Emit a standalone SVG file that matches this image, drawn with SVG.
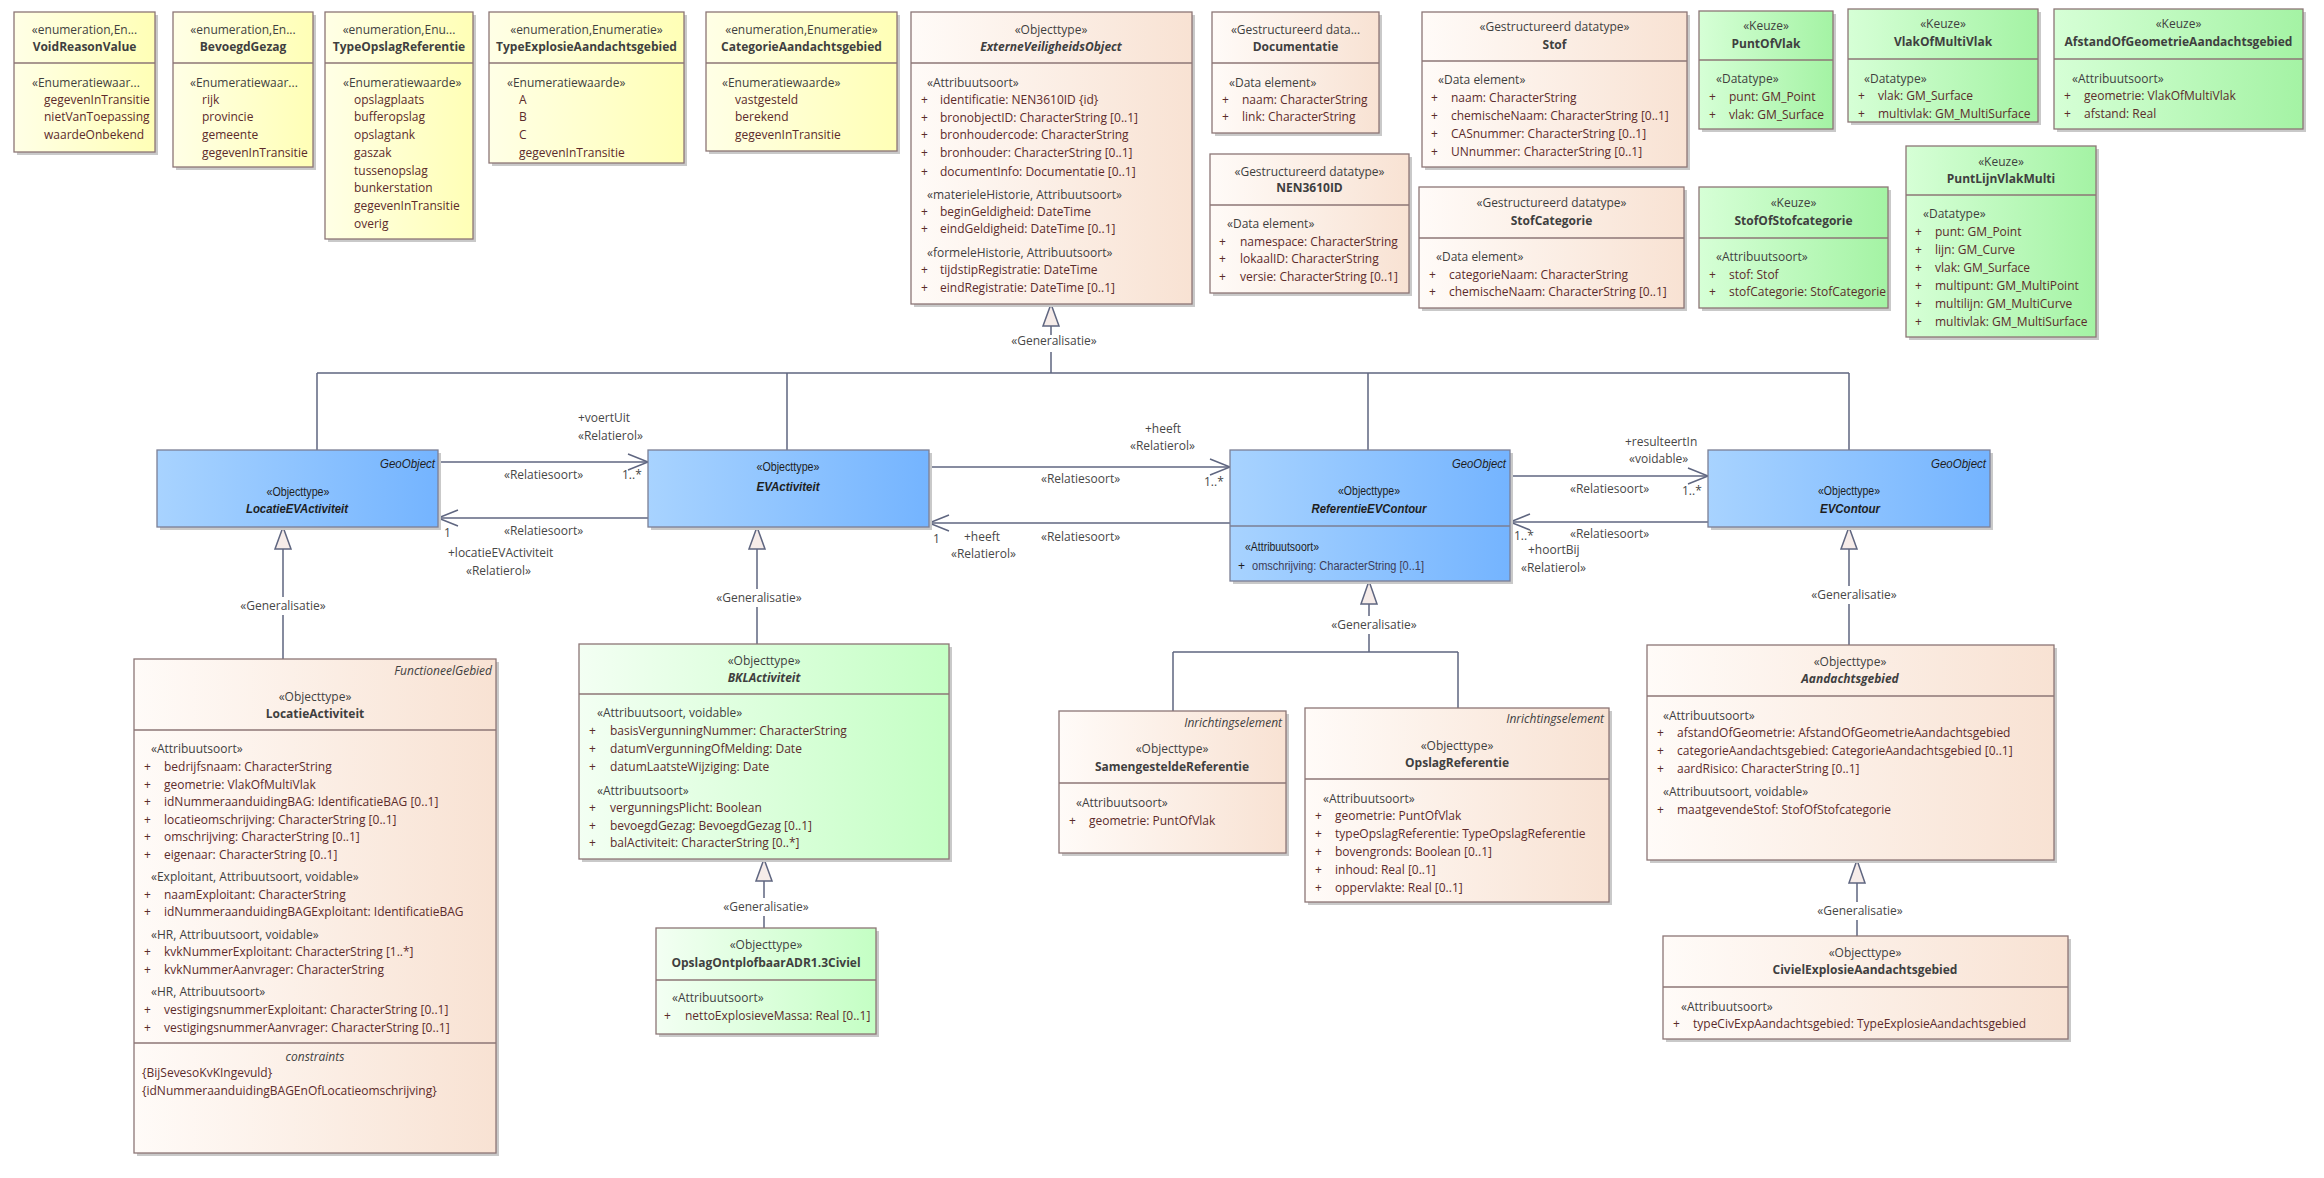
<svg xmlns="http://www.w3.org/2000/svg" width="2324" height="1178" viewBox="0 0 2324 1178">
<defs>
<linearGradient id="gy" x1="0" y1="0" x2="1" y2="0"><stop offset="0" stop-color="#FFFFE6"/><stop offset="1" stop-color="#FFFFB6"/></linearGradient>
<linearGradient id="gp" x1="0" y1="0" x2="1" y2="0"><stop offset="0" stop-color="#FFFBF8"/><stop offset="1" stop-color="#F8E2D3"/></linearGradient>
<linearGradient id="gg" x1="0" y1="0" x2="1" y2="0"><stop offset="0" stop-color="#D6FFD6"/><stop offset="1" stop-color="#A4F3A4"/></linearGradient>
<linearGradient id="gl" x1="0" y1="0" x2="1" y2="0"><stop offset="0" stop-color="#F3FFF3"/><stop offset="1" stop-color="#C4FFC4"/></linearGradient>
<linearGradient id="gb" x1="0" y1="0" x2="1" y2="0"><stop offset="0" stop-color="#A8D3FF"/><stop offset="1" stop-color="#74B4FF"/></linearGradient>
<marker id="open" markerWidth="24" markerHeight="20" refX="21" refY="9" orient="auto" markerUnits="userSpaceOnUse"><path d="M1,1 L21,9 L1,17" fill="none" stroke="#5f6680" stroke-width="1.5"/></marker>
</defs>
<style>
text{font-family:"Open Sans","Liberation Sans",sans-serif;font-size:12px}
.bx{stroke:#8c7676;stroke-width:1.3}
.bbx{stroke:#7b7f95;stroke-width:1.3}
.sh{fill:#c9c9c9}
.dv{stroke:#8c7676;stroke-width:1.3}
.st{fill:#3f3f3f}
.nm{fill:#3f3f3f;font-weight:bold}
.bi{font-style:italic}
.at{fill:#5c2b2b}
.c{text-anchor:middle}
.e{text-anchor:end}
.blu{font-family:"Liberation Sans",Arial,sans-serif;font-size:12px;fill:#1e1e1e}
.con{stroke:#5f6680;stroke-width:1.5;fill:none}
.tri{fill:#f6ece9;stroke:#5f6680;stroke-width:1.5}
.lb{fill:#474747}
</style>
<rect width="2324" height="1178" fill="#ffffff"/>

<g id="connectors">
<path class="con" d="M1051,326 V335 M1051,352 V373 M317,373 H1849 M317,373 V450 M787,373 V450 M1368,373 V450 M1849,373 V450"/>
<polygon class="tri" points="1051,304 1043,326 1059,326"/>
<text class="lb c" x="1054" y="345">«Generalisatie»</text>

<path class="con" d="M438,462 H648" marker-end="url(#open)"/>
<path class="con" d="M648,518 H438" marker-end="url(#open)"/>
<path class="con" d="M929,467 H1230" marker-end="url(#open)"/>
<path class="con" d="M1230,523 H929" marker-end="url(#open)"/>
<path class="con" d="M1510,476 H1708" marker-end="url(#open)"/>
<path class="con" d="M1708,522 H1510" marker-end="url(#open)"/>

<text class="lb" x="578" y="422">+voertUit</text>
<text class="lb" x="578" y="440">«Relatierol»</text>
<text class="lb" x="504" y="479">«Relatiesoort»</text>
<text class="lb" x="622" y="479">1..*</text>
<text class="lb" x="504" y="535">«Relatiesoort»</text>
<text class="lb" x="444" y="537">1</text>
<text class="lb" x="448" y="557">+locatieEVActiviteit</text>
<text class="lb" x="466" y="575">«Relatierol»</text>

<text class="lb" x="1145" y="433">+heeft</text>
<text class="lb" x="1130" y="450">«Relatierol»</text>
<text class="lb" x="1041" y="483">«Relatiesoort»</text>
<text class="lb" x="1204" y="486">1..*</text>
<text class="lb" x="933" y="543">1</text>
<text class="lb" x="964" y="541">+heeft</text>
<text class="lb" x="951" y="558">«Relatierol»</text>
<text class="lb" x="1041" y="541">«Relatiesoort»</text>

<text class="lb" x="1625" y="446">+resulteertIn</text>
<text class="lb" x="1629" y="463">«voidable»</text>
<text class="lb" x="1570" y="493">«Relatiesoort»</text>
<text class="lb" x="1682" y="495">1..*</text>
<text class="lb" x="1514" y="540">1..*</text>
<text class="lb" x="1528" y="554">+hoortBij</text>
<text class="lb" x="1521" y="572">«Relatierol»</text>
<text class="lb" x="1570" y="538">«Relatiesoort»</text>

<path class="con" d="M283,549 V597 M283,615 V659"/>
<polygon class="tri" points="283,527 275,549 291,549"/>
<text class="lb c" x="283" y="610">«Generalisatie»</text>

<path class="con" d="M757,549 V589 M757,607 V644"/>
<polygon class="tri" points="757,527 749,549 765,549"/>
<text class="lb c" x="759" y="602">«Generalisatie»</text>

<path class="con" d="M764,881 V898 M764,916 V928"/>
<polygon class="tri" points="764,859 756,881 772,881"/>
<text class="lb c" x="766" y="911">«Generalisatie»</text>

<path class="con" d="M1369,604 V616 M1369,634 V652 M1173,652 H1458 M1173,652 V711 M1458,652 V708"/>
<polygon class="tri" points="1369,581 1361,604 1377,604"/>
<text class="lb c" x="1374" y="629">«Generalisatie»</text>

<path class="con" d="M1849,549 V586 M1849,604 V645"/>
<polygon class="tri" points="1849,527 1841,549 1857,549"/>
<text class="lb c" x="1854" y="599">«Generalisatie»</text>

<path class="con" d="M1857,883 V902 M1857,920 V936"/>
<polygon class="tri" points="1857,860 1849,883 1865,883"/>
<text class="lb c" x="1860" y="915">«Generalisatie»</text>
</g>

<g id="VoidReasonValue">
<rect class="sh" x="17" y="15" width="141" height="140"/>
<rect class="bx" x="14" y="12" width="141" height="140" fill="url(#gy)"/>
<line class="dv" x1="14" y1="63" x2="155" y2="63"/>
<text class="st c" x="84.5" y="34">«enumeration,En...</text>
<text class="nm c" x="84.5" y="51">VoidReasonValue</text>
<text class="st" x="32" y="87">«Enumeratiewaar...</text>
<text class="at" x="44" y="104">gegevenInTransitie</text>
<text class="at" x="44" y="121">nietVanToepassing</text>
<text class="at" x="44" y="139">waardeOnbekend</text>
</g>

<g id="BevoegdGezag">
<rect class="sh" x="176" y="15" width="140" height="155"/>
<rect class="bx" x="173" y="12" width="140" height="155" fill="url(#gy)"/>
<line class="dv" x1="173" y1="63" x2="313" y2="63"/>
<text class="st c" x="243" y="34">«enumeration,En...</text>
<text class="nm c" x="243" y="51">BevoegdGezag</text>
<text class="st" x="190" y="87">«Enumeratiewaar...</text>
<text class="at" x="202" y="104">rijk</text>
<text class="at" x="202" y="121">provincie</text>
<text class="at" x="202" y="139">gemeente</text>
<text class="at" x="202" y="157">gegevenInTransitie</text>
</g>

<g id="TypeOpslagReferentie">
<rect class="sh" x="328" y="15" width="148" height="227"/>
<rect class="bx" x="325" y="12" width="148" height="227" fill="url(#gy)"/>
<line class="dv" x1="325" y1="63" x2="473" y2="63"/>
<text class="st c" x="399" y="34">«enumeration,Enu...</text>
<text class="nm c" x="399" y="51">TypeOpslagReferentie</text>
<text class="st" x="343" y="87">«Enumeratiewaarde»</text>
<text class="at" x="354" y="104">opslagplaats</text>
<text class="at" x="354" y="121">bufferopslag</text>
<text class="at" x="354" y="139">opslagtank</text>
<text class="at" x="354" y="157">gaszak</text>
<text class="at" x="354" y="175">tussenopslag</text>
<text class="at" x="354" y="192">bunkerstation</text>
<text class="at" x="354" y="210">gegevenInTransitie</text>
<text class="at" x="354" y="228">overig</text>
</g>

<g id="TypeExplosieAandachtsgebied">
<rect class="sh" x="492" y="15" width="195" height="151"/>
<rect class="bx" x="489" y="12" width="195" height="151" fill="url(#gy)"/>
<line class="dv" x1="489" y1="63" x2="684" y2="63"/>
<text class="st c" x="586.5" y="34">«enumeration,Enumeratie»</text>
<text class="nm c" x="586.5" y="51">TypeExplosieAandachtsgebied</text>
<text class="st" x="507" y="87">«Enumeratiewaarde»</text>
<text class="at" x="519" y="104">A</text>
<text class="at" x="519" y="121">B</text>
<text class="at" x="519" y="139">C</text>
<text class="at" x="519" y="157">gegevenInTransitie</text>
</g>

<g id="CategorieAandachtsgebied">
<rect class="sh" x="709" y="15" width="191" height="139"/>
<rect class="bx" x="706" y="12" width="191" height="139" fill="url(#gy)"/>
<line class="dv" x1="706" y1="63" x2="897" y2="63"/>
<text class="st c" x="801.5" y="34">«enumeration,Enumeratie»</text>
<text class="nm c" x="801.5" y="51">CategorieAandachtsgebied</text>
<text class="st" x="722" y="87">«Enumeratiewaarde»</text>
<text class="at" x="735" y="104">vastgesteld</text>
<text class="at" x="735" y="121">berekend</text>
<text class="at" x="735" y="139">gegevenInTransitie</text>
</g>

<g id="ExterneVeiligheidsObject">
<rect class="sh" x="914" y="15" width="281" height="292"/>
<rect class="bx" x="911" y="12" width="281" height="292" fill="url(#gp)"/>
<line class="dv" x1="911" y1="63" x2="1192" y2="63"/>
<text class="st c" x="1051" y="34">«Objecttype»</text>
<text class="nm bi c" x="1051" y="51">ExterneVeiligheidsObject</text>
<text class="st" x="927" y="87">«Attribuutsoort»</text>
<text class="at" x="921" y="104">+</text><text class="at" x="940" y="104">identificatie: NEN3610ID {id}</text>
<text class="at" x="921" y="122">+</text><text class="at" x="940" y="122">bronobjectID: CharacterString [0..1]</text>
<text class="at" x="921" y="139">+</text><text class="at" x="940" y="139">bronhoudercode: CharacterString</text>
<text class="at" x="921" y="157">+</text><text class="at" x="940" y="157">bronhouder: CharacterString [0..1]</text>
<text class="at" x="921" y="176">+</text><text class="at" x="940" y="176">documentInfo: Documentatie [0..1]</text>
<text class="st" x="927" y="199">«materieleHistorie, Attribuutsoort»</text>
<text class="at" x="921" y="216">+</text><text class="at" x="940" y="216">beginGeldigheid: DateTime</text>
<text class="at" x="921" y="233">+</text><text class="at" x="940" y="233">eindGeldigheid: DateTime [0..1]</text>
<text class="st" x="927" y="257">«formeleHistorie, Attribuutsoort»</text>
<text class="at" x="921" y="274">+</text><text class="at" x="940" y="274">tijdstipRegistratie: DateTime</text>
<text class="at" x="921" y="292">+</text><text class="at" x="940" y="292">eindRegistratie: DateTime [0..1]</text>
</g>

<g id="Documentatie">
<rect class="sh" x="1215" y="15" width="167" height="121"/>
<rect class="bx" x="1212" y="12" width="167" height="121" fill="url(#gp)"/>
<line class="dv" x1="1212" y1="63" x2="1379" y2="63"/>
<text class="st c" x="1295.5" y="34">«Gestructureerd data...</text>
<text class="nm c" x="1295.5" y="51">Documentatie</text>
<text class="st" x="1229" y="87">«Data element»</text>
<text class="at" x="1222" y="104">+</text><text class="at" x="1242" y="104">naam: CharacterString</text>
<text class="at" x="1222" y="121">+</text><text class="at" x="1242" y="121">link: CharacterString</text>
</g>

<g id="NEN3610ID">
<rect class="sh" x="1213" y="157" width="199" height="139"/>
<rect class="bx" x="1210" y="154" width="199" height="139" fill="url(#gp)"/>
<line class="dv" x1="1210" y1="205" x2="1409" y2="205"/>
<text class="st c" x="1309.5" y="176">«Gestructureerd datatype»</text>
<text class="nm c" x="1309.5" y="192">NEN3610ID</text>
<text class="st" x="1227" y="228">«Data element»</text>
<text class="at" x="1219" y="246">+</text><text class="at" x="1240" y="246">namespace: CharacterString</text>
<text class="at" x="1219" y="263">+</text><text class="at" x="1240" y="263">lokaalID: CharacterString</text>
<text class="at" x="1219" y="281">+</text><text class="at" x="1240" y="281">versie: CharacterString [0..1]</text>
</g>

<g id="Stof">
<rect class="sh" x="1425" y="15" width="265" height="155"/>
<rect class="bx" x="1422" y="12" width="265" height="155" fill="url(#gp)"/>
<line class="dv" x1="1422" y1="61" x2="1687" y2="61"/>
<text class="st c" x="1554.5" y="31">«Gestructureerd datatype»</text>
<text class="nm c" x="1554.5" y="49">Stof</text>
<text class="st" x="1438" y="84">«Data element»</text>
<text class="at" x="1431" y="102">+</text><text class="at" x="1451" y="102">naam: CharacterString</text>
<text class="at" x="1431" y="120">+</text><text class="at" x="1451" y="120">chemischeNaam: CharacterString [0..1]</text>
<text class="at" x="1431" y="138">+</text><text class="at" x="1451" y="138">CASnummer: CharacterString [0..1]</text>
<text class="at" x="1431" y="156">+</text><text class="at" x="1451" y="156">UNnummer: CharacterString [0..1]</text>
</g>

<g id="StofCategorie">
<rect class="sh" x="1422" y="190" width="265" height="121"/>
<rect class="bx" x="1419" y="187" width="265" height="121" fill="url(#gp)"/>
<line class="dv" x1="1419" y1="238" x2="1684" y2="238"/>
<text class="st c" x="1551.5" y="207">«Gestructureerd datatype»</text>
<text class="nm c" x="1551.5" y="225">StofCategorie</text>
<text class="st" x="1436" y="261">«Data element»</text>
<text class="at" x="1429" y="279">+</text><text class="at" x="1449" y="279">categorieNaam: CharacterString</text>
<text class="at" x="1429" y="296">+</text><text class="at" x="1449" y="296">chemischeNaam: CharacterString [0..1]</text>
</g>

<g id="PuntOfVlak">
<rect class="sh" x="1702" y="14" width="134" height="118"/>
<rect class="bx" x="1699" y="11" width="134" height="118" fill="url(#gg)"/>
<line class="dv" x1="1699" y1="60" x2="1833" y2="60"/>
<text class="st c" x="1766" y="30">«Keuze»</text>
<text class="nm c" x="1766" y="48">PuntOfVlak</text>
<text class="st" x="1716" y="83">«Datatype»</text>
<text class="at" x="1709" y="101">+</text><text class="at" x="1729" y="101">punt: GM_Point</text>
<text class="at" x="1709" y="119">+</text><text class="at" x="1729" y="119">vlak: GM_Surface</text>
</g>

<g id="StofOfStofcategorie">
<rect class="sh" x="1702" y="190" width="189" height="121"/>
<rect class="bx" x="1699" y="187" width="189" height="121" fill="url(#gg)"/>
<line class="dv" x1="1699" y1="238" x2="1888" y2="238"/>
<text class="st c" x="1793.5" y="207">«Keuze»</text>
<text class="nm c" x="1793.5" y="225">StofOfStofcategorie</text>
<text class="st" x="1716" y="261">«Attribuutsoort»</text>
<text class="at" x="1709" y="279">+</text><text class="at" x="1729" y="279">stof: Stof</text>
<text class="at" x="1709" y="296">+</text><text class="at" x="1729" y="296">stofCategorie: StofCategorie</text>
</g>

<g id="VlakOfMultiVlak">
<rect class="sh" x="1851" y="12" width="190" height="113"/>
<rect class="bx" x="1848" y="9" width="190" height="113" fill="url(#gg)"/>
<line class="dv" x1="1848" y1="59" x2="2038" y2="59"/>
<text class="st c" x="1943" y="28">«Keuze»</text>
<text class="nm c" x="1943" y="46">VlakOfMultiVlak</text>
<text class="st" x="1864" y="83">«Datatype»</text>
<text class="at" x="1858" y="100">+</text><text class="at" x="1878" y="100">vlak: GM_Surface</text>
<text class="at" x="1858" y="118">+</text><text class="at" x="1878" y="118">multivlak: GM_MultiSurface</text>
</g>

<g id="AfstandOfGeometrieAandachtsgebied">
<rect class="sh" x="2057" y="12" width="249" height="120"/>
<rect class="bx" x="2054" y="9" width="249" height="120" fill="url(#gg)"/>
<line class="dv" x1="2054" y1="59" x2="2303" y2="59"/>
<text class="st c" x="2178.5" y="28">«Keuze»</text>
<text class="nm c" x="2178.5" y="46">AfstandOfGeometrieAandachtsgebied</text>
<text class="st" x="2072" y="83">«Attribuutsoort»</text>
<text class="at" x="2064" y="100">+</text><text class="at" x="2084" y="100">geometrie: VlakOfMultiVlak</text>
<text class="at" x="2064" y="118">+</text><text class="at" x="2084" y="118">afstand: Real</text>
</g>

<g id="PuntLijnVlakMulti">
<rect class="sh" x="1909" y="149" width="190" height="191"/>
<rect class="bx" x="1906" y="146" width="190" height="191" fill="url(#gg)"/>
<line class="dv" x1="1906" y1="195" x2="2096" y2="195"/>
<text class="st c" x="2001" y="166">«Keuze»</text>
<text class="nm c" x="2001" y="183">PuntLijnVlakMulti</text>
<text class="st" x="1923" y="218">«Datatype»</text>
<text class="at" x="1915" y="236">+</text><text class="at" x="1935" y="236">punt: GM_Point</text>
<text class="at" x="1915" y="254">+</text><text class="at" x="1935" y="254">lijn: GM_Curve</text>
<text class="at" x="1915" y="272">+</text><text class="at" x="1935" y="272">vlak: GM_Surface</text>
<text class="at" x="1915" y="290">+</text><text class="at" x="1935" y="290">multipunt: GM_MultiPoint</text>
<text class="at" x="1915" y="308">+</text><text class="at" x="1935" y="308">multilijn: GM_MultiCurve</text>
<text class="at" x="1915" y="326">+</text><text class="at" x="1935" y="326">multivlak: GM_MultiSurface</text>
</g>

<g id="LocatieEVActiviteit">
<rect class="sh" x="160" y="453" width="281" height="77"/>
<rect class="bbx" x="157" y="450" width="281" height="77" fill="url(#gb)"/>
<text class="blu bi e" x="435" y="468" textLength="55" lengthAdjust="spacingAndGlyphs">GeoObject</text>
<text class="blu c" x="298" y="496" textLength="63" lengthAdjust="spacingAndGlyphs">«Objecttype»</text>
<text class="blu bi c" x="297" y="513" font-weight="bold" textLength="102" lengthAdjust="spacingAndGlyphs">LocatieEVActiviteit</text>
</g>

<g id="EVActiviteit">
<rect class="sh" x="651" y="453" width="281" height="77"/>
<rect class="bbx" x="648" y="450" width="281" height="77" fill="url(#gb)"/>
<text class="blu c" x="788" y="471" textLength="63" lengthAdjust="spacingAndGlyphs">«Objecttype»</text>
<text class="blu bi c" x="788" y="491" font-weight="bold" textLength="63" lengthAdjust="spacingAndGlyphs">EVActiviteit</text>
</g>

<g id="ReferentieEVContour">
<rect class="sh" x="1233" y="453" width="280" height="131"/>
<rect class="bbx" x="1230" y="450" width="280" height="131" fill="url(#gb)"/>
<line x1="1230" y1="526" x2="1510" y2="526" stroke="#7b7f95" stroke-width="1.3"/>
<text class="blu bi e" x="1506" y="468" textLength="54" lengthAdjust="spacingAndGlyphs">GeoObject</text>
<text class="blu c" x="1369" y="495" textLength="62" lengthAdjust="spacingAndGlyphs">«Objecttype»</text>
<text class="blu bi c" x="1369" y="513" font-weight="bold" textLength="115" lengthAdjust="spacingAndGlyphs">ReferentieEVContour</text>
<text class="blu" x="1245" y="551" textLength="74" lengthAdjust="spacingAndGlyphs">«Attribuutsoort»</text>
<text class="blu" x="1238" y="570" fill="#3d3d5a">+</text>
<text class="blu" x="1252" y="570" textLength="172" lengthAdjust="spacingAndGlyphs" style="fill:#3d3d5a">omschrijving: CharacterString [0..1]</text>
</g>

<g id="EVContour">
<rect class="sh" x="1711" y="453" width="282" height="77"/>
<rect class="bbx" x="1708" y="450" width="282" height="77" fill="url(#gb)"/>
<text class="blu bi e" x="1986" y="468" textLength="55" lengthAdjust="spacingAndGlyphs">GeoObject</text>
<text class="blu c" x="1849" y="495" textLength="62" lengthAdjust="spacingAndGlyphs">«Objecttype»</text>
<text class="blu bi c" x="1850" y="513" font-weight="bold" textLength="60" lengthAdjust="spacingAndGlyphs">EVContour</text>
</g>

<g id="LocatieActiviteit">
<rect class="sh" x="137" y="662" width="362" height="494"/>
<rect class="bx" x="134" y="659" width="362" height="494" fill="url(#gp)"/>
<line class="dv" x1="134" y1="730" x2="496" y2="730"/>
<line class="dv" x1="134" y1="1043" x2="496" y2="1043"/>
<text class="st bi e" x="492" y="675">FunctioneelGebied</text>
<text class="st c" x="315" y="701">«Objecttype»</text>
<text class="nm c" x="315" y="718">LocatieActiviteit</text>
<text class="st" x="151" y="753">«Attribuutsoort»</text>
<text class="at" x="144" y="771">+</text><text class="at" x="164" y="771">bedrijfsnaam: CharacterString</text>
<text class="at" x="144" y="789">+</text><text class="at" x="164" y="789">geometrie: VlakOfMultiVlak</text>
<text class="at" x="144" y="806">+</text><text class="at" x="164" y="806">idNummeraanduidingBAG: IdentificatieBAG [0..1]</text>
<text class="at" x="144" y="824">+</text><text class="at" x="164" y="824">locatieomschrijving: CharacterString [0..1]</text>
<text class="at" x="144" y="841">+</text><text class="at" x="164" y="841">omschrijving: CharacterString [0..1]</text>
<text class="at" x="144" y="859">+</text><text class="at" x="164" y="859">eigenaar: CharacterString [0..1]</text>
<text class="st" x="151" y="881">«Exploitant, Attribuutsoort, voidable»</text>
<text class="at" x="144" y="899">+</text><text class="at" x="164" y="899">naamExploitant: CharacterString</text>
<text class="at" x="144" y="916">+</text><text class="at" x="164" y="916">idNummeraanduidingBAGExploitant: IdentificatieBAG</text>
<text class="st" x="151" y="939">«HR, Attribuutsoort, voidable»</text>
<text class="at" x="144" y="956">+</text><text class="at" x="164" y="956">kvkNummerExploitant: CharacterString [1..*]</text>
<text class="at" x="144" y="974">+</text><text class="at" x="164" y="974">kvkNummerAanvrager: CharacterString</text>
<text class="st" x="151" y="996">«HR, Attribuutsoort»</text>
<text class="at" x="144" y="1014">+</text><text class="at" x="164" y="1014">vestigingsnummerExploitant: CharacterString [0..1]</text>
<text class="at" x="144" y="1032">+</text><text class="at" x="164" y="1032">vestigingsnummerAanvrager: CharacterString [0..1]</text>
<text class="st bi c" x="315" y="1061">constraints</text>
<text class="at" x="142" y="1077">{BijSevesoKvKIngevuld}</text>
<text class="at" x="142" y="1095">{idNummeraanduidingBAGEnOfLocatieomschrijving}</text>
</g>

<g id="BKLActiviteit">
<rect class="sh" x="582" y="647" width="370" height="215"/>
<rect class="bx" x="579" y="644" width="370" height="215" fill="url(#gl)"/>
<line class="dv" x1="579" y1="694" x2="949" y2="694"/>
<text class="st c" x="764" y="665">«Objecttype»</text>
<text class="nm bi c" x="764" y="682">BKLActiviteit</text>
<text class="st" x="597" y="717">«Attribuutsoort, voidable»</text>
<text class="at" x="589" y="735">+</text><text class="at" x="610" y="735">basisVergunningNummer: CharacterString</text>
<text class="at" x="589" y="753">+</text><text class="at" x="610" y="753">datumVergunningOfMelding: Date</text>
<text class="at" x="589" y="771">+</text><text class="at" x="610" y="771">datumLaatsteWijziging: Date</text>
<text class="st" x="597" y="795">«Attribuutsoort»</text>
<text class="at" x="589" y="812">+</text><text class="at" x="610" y="812">vergunningsPlicht: Boolean</text>
<text class="at" x="589" y="830">+</text><text class="at" x="610" y="830">bevoegdGezag: BevoegdGezag [0..1]</text>
<text class="at" x="589" y="847">+</text><text class="at" x="610" y="847">balActiviteit: CharacterString [0..*]</text>
</g>

<g id="OpslagOntplofbaarADR1.3Civiel">
<rect class="sh" x="659" y="931" width="220" height="106"/>
<rect class="bx" x="656" y="928" width="220" height="106" fill="url(#gl)"/>
<line class="dv" x1="656" y1="980" x2="876" y2="980"/>
<text class="st c" x="766" y="949">«Objecttype»</text>
<text class="nm c" x="766" y="967">OpslagOntplofbaarADR1.3Civiel</text>
<text class="st" x="672" y="1002">«Attribuutsoort»</text>
<text class="at" x="664" y="1020">+</text><text class="at" x="685" y="1020">nettoExplosieveMassa: Real [0..1]</text>
</g>

<g id="SamengesteldeReferentie">
<rect class="sh" x="1062" y="714" width="227" height="142"/>
<rect class="bx" x="1059" y="711" width="227" height="142" fill="url(#gp)"/>
<line class="dv" x1="1059" y1="783" x2="1286" y2="783"/>
<text class="st bi e" x="1282" y="727">Inrichtingselement</text>
<text class="st c" x="1172" y="753">«Objecttype»</text>
<text class="nm c" x="1172" y="771">SamengesteldeReferentie</text>
<text class="st" x="1076" y="807">«Attribuutsoort»</text>
<text class="at" x="1069" y="825">+</text><text class="at" x="1089" y="825">geometrie: PuntOfVlak</text>
</g>

<g id="OpslagReferentie">
<rect class="sh" x="1308" y="711" width="304" height="194"/>
<rect class="bx" x="1305" y="708" width="304" height="194" fill="url(#gp)"/>
<line class="dv" x1="1305" y1="779" x2="1609" y2="779"/>
<text class="st bi e" x="1604" y="723">Inrichtingselement</text>
<text class="st c" x="1457" y="750">«Objecttype»</text>
<text class="nm c" x="1457" y="767">OpslagReferentie</text>
<text class="st" x="1323" y="803">«Attribuutsoort»</text>
<text class="at" x="1315" y="820">+</text><text class="at" x="1335" y="820">geometrie: PuntOfVlak</text>
<text class="at" x="1315" y="838">+</text><text class="at" x="1335" y="838">typeOpslagReferentie: TypeOpslagReferentie</text>
<text class="at" x="1315" y="856">+</text><text class="at" x="1335" y="856">bovengronds: Boolean [0..1]</text>
<text class="at" x="1315" y="874">+</text><text class="at" x="1335" y="874">inhoud: Real [0..1]</text>
<text class="at" x="1315" y="892">+</text><text class="at" x="1335" y="892">oppervlakte: Real [0..1]</text>
</g>

<g id="Aandachtsgebied">
<rect class="sh" x="1650" y="648" width="407" height="215"/>
<rect class="bx" x="1647" y="645" width="407" height="215" fill="url(#gp)"/>
<line class="dv" x1="1647" y1="696" x2="2054" y2="696"/>
<text class="st c" x="1850" y="666">«Objecttype»</text>
<text class="nm bi c" x="1850" y="683">Aandachtsgebied</text>
<text class="st" x="1663" y="720">«Attribuutsoort»</text>
<text class="at" x="1657" y="737">+</text><text class="at" x="1677" y="737">afstandOfGeometrie: AfstandOfGeometrieAandachtsgebied</text>
<text class="at" x="1657" y="755">+</text><text class="at" x="1677" y="755">categorieAandachtsgebied: CategorieAandachtsgebied [0..1]</text>
<text class="at" x="1657" y="773">+</text><text class="at" x="1677" y="773">aardRisico: CharacterString [0..1]</text>
<text class="st" x="1663" y="796">«Attribuutsoort, voidable»</text>
<text class="at" x="1657" y="814">+</text><text class="at" x="1677" y="814">maatgevendeStof: StofOfStofcategorie</text>
</g>

<g id="CivielExplosieAandachtsgebied">
<rect class="sh" x="1666" y="939" width="405" height="103"/>
<rect class="bx" x="1663" y="936" width="405" height="103" fill="url(#gp)"/>
<line class="dv" x1="1663" y1="987" x2="2068" y2="987"/>
<text class="st c" x="1865" y="957">«Objecttype»</text>
<text class="nm c" x="1865" y="974">CivielExplosieAandachtsgebied</text>
<text class="st" x="1681" y="1011">«Attribuutsoort»</text>
<text class="at" x="1673" y="1028">+</text><text class="at" x="1693" y="1028">typeCivExpAandachtsgebied: TypeExplosieAandachtsgebied</text>
</g>
</svg>
